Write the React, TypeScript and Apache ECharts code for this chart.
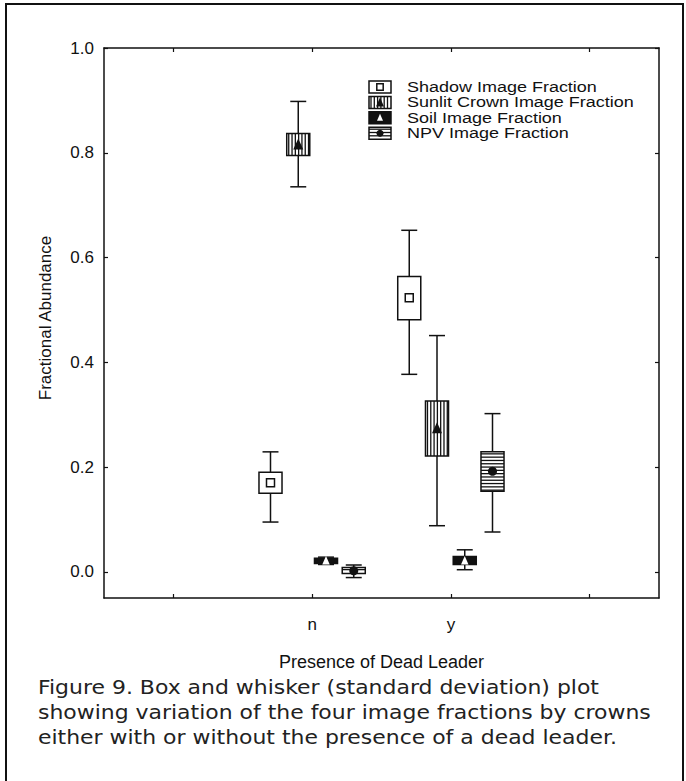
import React, { useEffect, useRef } from 'react';
import * as echarts from 'echarts';

// ---------- data ----------
const categories = ['', 'n', 'y', ' '];
const yTicks = [0, 0.2, 0.4, 0.6, 0.8, 1.0];
const seriesNames = [
  'Shadow Image Fraction',
  'Sunlit Crown Image Fraction',
  'Soil Image Fraction',
  'NPV Image Fraction',
];
// [categoryIndex, whiskerLow, boxLow, mean, boxHigh, whiskerHigh]
const shadowData = [
  [1, 0.095, 0.150, 0.170, 0.190, 0.229],
  [2, 0.377, 0.481, 0.523, 0.564, 0.652],
];
const sunlitData = [
  [1, 0.735, 0.795, 0.816, 0.837, 0.898],
  [2, 0.088, 0.221, 0.274, 0.326, 0.451],
];
const soilData = [
  [1, 0.014, 0.016, 0.021, 0.026, 0.028],
  [2, 0.004, 0.014, 0.021, 0.029, 0.042],
];
const npvData = [
  [1, -0.011, -0.003, 0.002, 0.008, 0.013],
  [2, 0.076, 0.154, 0.192, 0.229, 0.302],
];
const captionLines = [
  'Figure 9. Box and whisker (standard deviation) plot',
  'showing variation of the four image fractions by crowns',
  'either with or without the presence of a dead leader.',
];

// ---------- styling ----------
const INK = '#111';
const FONT = 'Liberation Sans, Arial, sans-serif';
const KINDS = ['shadow', 'sunlit', 'soil', 'npv'];
const OFFSETS = [-0.3, -0.1, 0.1, 0.3];
const BOX_W = 0.166;
const CAP_W = 0.115;

function glyph(kind: string, x0: number, y0: number, w: number, h: number, mx: number, my: number, ms: number) {
  const ch: any[] = [];
  ch.push({ type: 'rect', shape: { x: x0, y: y0, width: w, height: h }, style: { fill: kind === 'soil' ? INK : '#fff', stroke: null } });
  const sp = 3.3;
  if (kind === 'sunlit') {
    for (let x = x0 + 2; x < x0 + w - 0.5; x += sp) {
      ch.push({ type: 'line', shape: { x1: x, y1: y0, x2: x, y2: y0 + h }, style: { stroke: INK, lineWidth: 1.3 } });
    }
  }
  if (kind === 'npv') {
    for (let y = y0 + 2; y < y0 + h - 0.5; y += sp) {
      ch.push({ type: 'line', shape: { x1: x0, y1: y, x2: x0 + w, y2: y }, style: { stroke: INK, lineWidth: 1.3 } });
    }
  }
  ch.push({ type: 'rect', shape: { x: x0, y: y0, width: w, height: h }, style: { fill: null, stroke: INK, lineWidth: 1.5 } });
  if (kind === 'shadow') {
    const s = ms * 0.8;
    ch.push({ type: 'rect', shape: { x: mx - s / 2, y: my - s / 2, width: s, height: s }, style: { fill: '#fff', stroke: INK, lineWidth: 1.5 } });
  } else if (kind === 'sunlit') {
    ch.push({ type: 'polygon', shape: { points: [[mx, my - ms / 2 - 1], [mx - ms / 2, my + ms / 2], [mx + ms / 2, my + ms / 2]] }, style: { fill: INK } });
  } else if (kind === 'soil') {
    const s = ms * 0.75;
    ch.push({ type: 'polygon', shape: { points: [[mx, my - s / 2 - 1], [mx - s / 2, my + s / 2], [mx + s / 2, my + s / 2]] }, style: { fill: '#fff' } });
  } else {
    ch.push({ type: 'circle', shape: { cx: mx, cy: my, r: ms / 2 - 0.5 }, style: { fill: INK } });
  }
  return ch;
}

function makeRenderItem(kind: string, offset: number) {
  return (_params: any, api: any) => {
    const cat = api.value(0);
    const band = api.size([1, 0])[0];
    const cx = api.coord([cat, 0])[0] + offset * band;
    const yWL = api.coord([cat, api.value(1)])[1];
    const yBL = api.coord([cat, api.value(2)])[1];
    const yM = api.coord([cat, api.value(3)])[1];
    const yBH = api.coord([cat, api.value(4)])[1];
    const yWH = api.coord([cat, api.value(5)])[1];
    const bw = BOX_W * band;
    const cw = CAP_W * band;
    const children: any[] = [];
    const ln = { stroke: INK, lineWidth: 1.5 };
    children.push({ type: 'line', shape: { x1: cx, y1: yWH, x2: cx, y2: yWL }, style: ln });
    children.push({ type: 'line', shape: { x1: cx - cw / 2, y1: yWH, x2: cx + cw / 2, y2: yWH }, style: ln });
    children.push({ type: 'line', shape: { x1: cx - cw / 2, y1: yWL, x2: cx + cw / 2, y2: yWL }, style: ln });
    glyph(kind, cx - bw / 2, yBH, bw, yBL - yBH, cx, yM, 10).forEach((c) => children.push(c));
    return { type: 'group', children };
  };
}

export default function App() {
  const ref = useRef<HTMLDivElement>(null);
  useEffect(() => {
    document.body.style.margin = '0';
    const chart = echarts.init(ref.current as HTMLDivElement, undefined, { renderer: 'svg' });
    const allData = [shadowData, sunlitData, soilData, npvData];

    const legendGraphics: any[] = [];
    seriesNames.forEach((name, i) => {
      const cy = 87 + i * 15.4;
      const ix = 369, iw = 22, ih = 12;
      legendGraphics.push({
        type: 'group',
        children: glyph(KINDS[i], ix, cy - ih / 2, iw, ih, ix + iw / 2, cy, 8),
      });
      legendGraphics.push({
        type: 'text',
        x: 407,
        y: cy,
        scaleX: 1.2,
        style: { text: name, fill: INK, font: `15px ${FONT}`, textVerticalAlign: 'middle' },
      });
    });

    const captionGraphics = captionLines.map((t, i) => ({
      type: 'text',
      x: 38,
      y: 688 + i * 25,
      scaleX: 1.155,
      style: { text: t, fill: '#222', font: '19px "DejaVu Sans", sans-serif', textVerticalAlign: 'middle' },
    }));

    const xCommon = {
      type: 'category',
      data: categories,
      boundaryGap: true,
      axisLine: { show: true, onZero: false, lineStyle: { color: INK, width: 1.5 } },
      axisTick: { show: true, inside: true, alignWithLabel: true, length: 4, lineStyle: { color: INK, width: 1.2 } },
      splitLine: { show: false },
    };
    const yCommon = {
      type: 'value',
      min: -0.05,
      max: 1.0,
      axisLine: { show: true, onZero: false, lineStyle: { color: INK, width: 1.5 } },
      axisTick: { show: true, inside: true, length: 4, customValues: yTicks, lineStyle: { color: INK, width: 1.2 } },
      splitLine: { show: false },
    };

    const option: any = {
      animation: false,
      backgroundColor: '#fff',
      grid: { left: 104, top: 48, right: 27, bottom: 183 },
      xAxis: [
        {
          ...xCommon,
          position: 'bottom',
          name: 'Presence of Dead Leader',
          nameLocation: 'middle',
          nameGap: 55,
          nameTextStyle: { color: INK, fontSize: 18, fontFamily: FONT },
          axisLabel: { show: true, color: INK, fontSize: 17, fontFamily: FONT, margin: 18 },
        },
        {
          ...xCommon,
          position: 'top',
          axisLabel: { show: false },
        },
      ],
      yAxis: [
        {
          ...yCommon,
          position: 'left',
          name: 'Fractional Abundance',
          nameLocation: 'middle',
          nameGap: 50,
          nameRotate: 90,
          nameTextStyle: { color: INK, fontSize: 17, fontFamily: FONT, padding: [0, 0, 0, 10] },
          axisLabel: { show: true, color: INK, fontSize: 17, fontFamily: FONT, margin: 10, customValues: yTicks, formatter: (v: number) => v.toFixed(1) },
        },
        {
          ...yCommon,
          position: 'right',
          axisLabel: { show: false },
        },
      ],
      series: allData.map((d, i) => ({
        type: 'custom',
        name: seriesNames[i],
        xAxisIndex: 0,
        yAxisIndex: 0,
        data: d,
        encode: { x: 0, y: [1, 2, 3, 4, 5] },
        renderItem: makeRenderItem(KINDS[i], OFFSETS[i]),
        clip: false,
      })),
      graphic: [
        {
          type: 'rect',
          shape: { x: 6, y: 4, width: 677, height: 820 },
          style: { fill: null, stroke: INK, lineWidth: 2 },
          silent: true,
        },
        ...legendGraphics,
        ...captionGraphics,
      ],
    };
    chart.setOption(option);
    return () => chart.dispose();
  }, []);
  return <div ref={ref} style={{ width: 686, height: 781 }} />;
}
